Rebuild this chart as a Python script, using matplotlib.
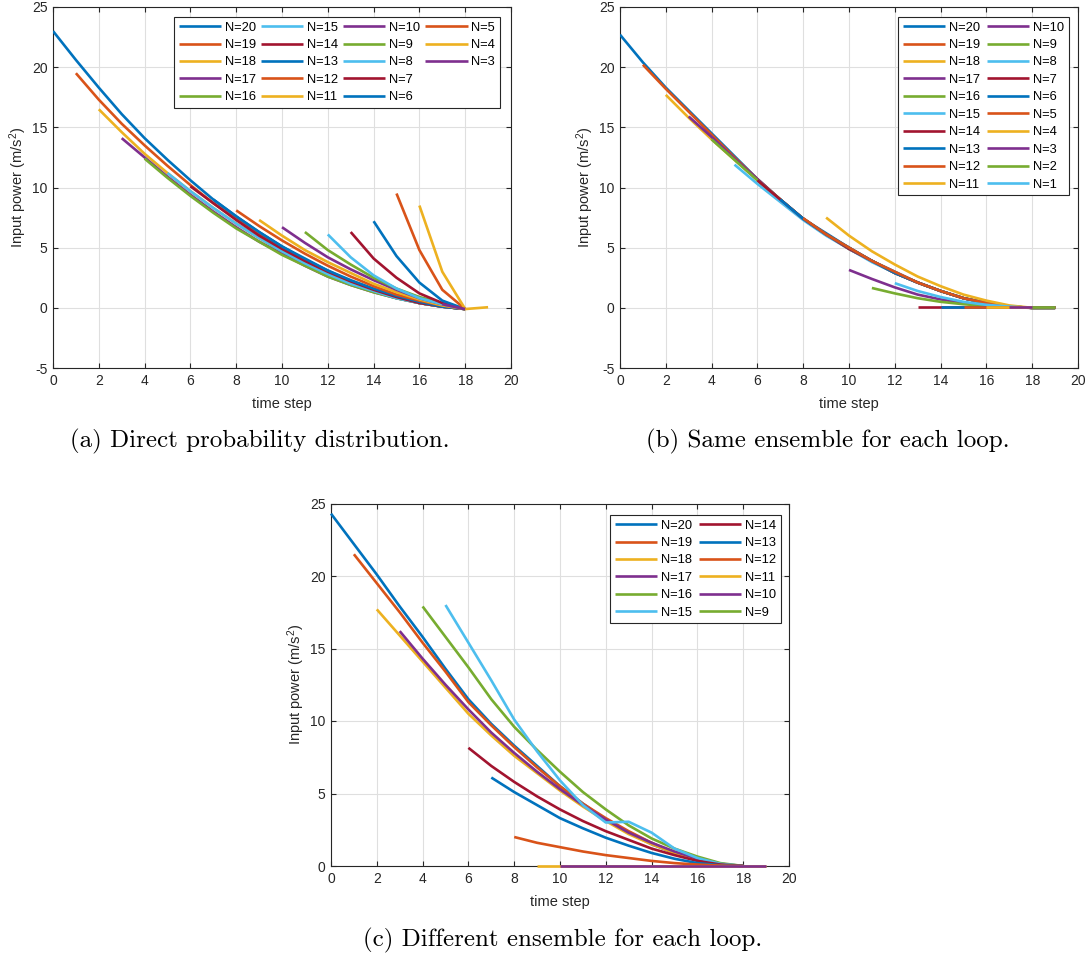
import matplotlib
matplotlib.use("Agg")
import matplotlib.pyplot as plt
from matplotlib.lines import Line2D

plt.rcParams['font.family'] = ['Liberation Sans', 'DejaVu Sans']
plt.rcParams['mathtext.fontset'] = 'custom'
plt.rcParams['mathtext.rm'] = 'Liberation Sans'
plt.rcParams['mathtext.it'] = 'Liberation Sans:italic'
plt.rcParams['axes.unicode_minus'] = False

# ---------------- data ----------------
colors = ['#0072BD', '#D95319', '#EDB120', '#7E2F8E', '#77AC30', '#4DBEEE', '#A2142F']

# Panel (a): Direct probability distribution
a_N = [20, 19, 18, 17, 16, 15, 14, 13, 12, 11, 10, 9, 8, 7, 6, 5, 4, 3]
a_start = [0, 1, 2, 3, 4, 5, 6, 7, 8, 9, 10, 11, 12, 13, 14, 15, 16, 17]
a_vals = [
    [23.0, 20.6, 18.3, 16.1, 14.1, 12.3, 10.6, 9.0, 7.6, 6.3, 5.1, 4.0, 3.1, 2.2, 1.5, 0.9, 0.4, 0.1, -0.1],
    [19.5, 17.3, 15.3, 13.5, 11.8, 10.2, 8.7, 7.4, 6.1, 5.0, 3.9, 3.0, 2.1, 1.4, 0.9, 0.4, 0.1, -0.1],
    [16.5, 14.6, 12.8, 11.2, 9.7, 8.3, 7.0, 5.8, 4.7, 3.7, 2.8, 2.0, 1.4, 0.8, 0.4, 0.1, -0.1],
    [14.1, 12.5, 10.9, 9.4, 8.0, 6.7, 5.5, 4.5, 3.5, 2.6, 1.9, 1.3, 0.8, 0.4, 0.1, -0.1],
    [12.4, 10.8, 9.3, 7.9, 6.6, 5.5, 4.4, 3.5, 2.6, 1.9, 1.3, 0.8, 0.4, 0.1, -0.1],
    [11.2, 9.7, 8.3, 7.0, 5.8, 4.7, 3.7, 2.8, 2.0, 1.4, 0.8, 0.4, 0.1, -0.1],
    [10.1, 8.7, 7.3, 6.0, 4.9, 3.9, 3.0, 2.2, 1.5, 0.9, 0.4, 0.1, -0.1],
    [9.0, 7.6, 6.3, 5.1, 4.1, 3.1, 2.3, 1.6, 1.0, 0.5, 0.1, -0.1],
    [8.1, 6.8, 5.6, 4.5, 3.5, 2.6, 1.8, 1.1, 0.6, 0.2, -0.1],
    [7.3, 6.0, 4.8, 3.8, 2.9, 2.0, 1.3, 0.7, 0.2, -0.1],
    [6.7, 5.4, 4.2, 3.2, 2.3, 1.5, 0.8, 0.3, -0.1],
    [6.3, 4.8, 3.6, 2.5, 1.6, 0.9, 0.4, -0.1],
    [6.1, 4.2, 2.7, 1.6, 0.8, 0.3, -0.1],
    [6.3, 4.1, 2.5, 1.2, 0.4, -0.1],
    [7.2, 4.3, 2.1, 0.6, -0.1],
    [9.5, 4.8, 1.5, -0.1],
    [8.5, 3.0, -0.1, 0.05],
    [0.3, -0.1],
]

# Panel (b): Same ensemble for each loop
b_N = [20, 19, 18, 17, 16, 15, 14, 13, 12, 11, 10, 9, 8, 7, 6, 5, 4, 3, 2, 1]
b_start = [0, 1, 2, 3, 4, 5, 6, 7, 8, 9, 10, 11, 12, 13, 14, 15, 16, 17, 18, 19]
b_vals = [
    [22.7, 20.4, 18.3, 16.4, 14.5, 12.6, 10.7, 9.0, 7.4, 6.2, 5.0, 3.9, 3.0, 2.1, 1.4, 0.8, 0.4, 0.1, 0.0, 0.0],
    [20.2, 18.2, 16.3, 14.4, 12.5, 10.7, 9.0, 7.4, 6.1, 5.0, 3.9, 2.9, 2.1, 1.4, 0.8, 0.4, 0.1, 0.0, 0.0],
    [17.7, 15.8, 14.0, 12.3, 10.6, 9.0, 7.4, 6.1, 4.9, 3.9, 2.9, 2.1, 1.4, 0.8, 0.4, 0.1, 0.0, 0.0],
    [15.9, 14.2, 12.4, 10.7, 9.0, 7.4, 6.1, 4.9, 3.9, 2.9, 2.1, 1.4, 0.8, 0.4, 0.1, 0.0, 0.0],
    [14.0, 12.3, 10.6, 9.0, 7.4, 6.1, 4.9, 3.9, 2.9, 2.1, 1.4, 0.8, 0.4, 0.1, 0.0, 0.0],
    [11.9, 10.3, 8.8, 7.3, 6.0, 4.9, 3.8, 2.9, 2.1, 1.4, 0.8, 0.4, 0.1, 0.0, 0.0],
    [10.6, 9.0, 7.4, 6.1, 4.9, 3.9, 2.9, 2.1, 1.4, 0.8, 0.4, 0.1, 0.0, 0.0],
    [9.0, 7.4, 6.1, 5.0, 3.9, 2.9, 2.1, 1.4, 0.8, 0.4, 0.1, 0.0, 0.0],
    [7.45, 6.1, 5.0, 3.9, 3.0, 2.1, 1.4, 0.8, 0.4, 0.1, 0.0, 0.0],
    [7.5, 6.0, 4.7, 3.6, 2.6, 1.8, 1.1, 0.6, 0.2, 0.0, 0.0],
    [3.15, 2.4, 1.7, 1.1, 0.7, 0.4, 0.2, 0.05, 0.0, 0.0],
    [1.65, 1.2, 0.8, 0.5, 0.3, 0.15, 0.05, 0.0, 0.0],
    [2.05, 1.4, 0.9, 0.5, 0.25, 0.1, 0.0, 0.0],
    [0.05, 0.05, 0.05, 0.05, 0.05, 0.05, 0.05],
    [0.05, 0.05, 0.05, 0.05, 0.05, 0.05],
    [0.05, 0.05, 0.05, 0.05, 0.05],
    [0.05, 0.05, 0.05, 0.05],
    [0.05, 0.05, 0.05],
    [0.05, 0.05],
    [0.05],
]

# Panel (c): Different ensemble for each loop
c_N = [20, 19, 18, 17, 16, 15, 14, 13, 12, 11, 10, 9]
c_start = [0, 1, 2, 3, 4, 5, 6, 7, 8, 9, 10, 11]
c_vals = [
    [24.3, 22.2, 20.1, 17.9, 15.8, 13.6, 11.5, 9.8, 8.3, 6.9, 5.5, 4.3, 3.2, 2.3, 1.5, 0.9, 0.4, 0.1, 0.0],
    [21.5, 19.5, 17.5, 15.4, 13.4, 11.3, 9.7, 8.2, 6.8, 5.5, 4.3, 3.3, 2.4, 1.6, 0.9, 0.4, 0.1, 0.0],
    [17.7, 15.9, 14.1, 12.3, 10.5, 9.0, 7.6, 6.4, 5.2, 4.1, 3.1, 2.2, 1.5, 0.9, 0.4, 0.1, 0.0],
    [16.2, 14.3, 12.5, 10.8, 9.2, 7.8, 6.5, 5.3, 4.2, 3.2, 2.3, 1.6, 1.0, 0.5, 0.15, 0.0],
    [17.9, 15.8, 13.7, 11.5, 9.6, 8.0, 6.5, 5.1, 3.9, 2.8, 1.9, 1.2, 0.65, 0.2, 0.0],
    [18.0, 15.4, 12.8, 10.1, 7.9, 5.9, 4.2, 3.0, 3.05, 2.3, 1.2, 0.55, 0.15, 0.0],
    [8.15, 6.9, 5.8, 4.8, 3.9, 3.1, 2.4, 1.8, 1.2, 0.75, 0.35, 0.1, 0.0],
    [6.1, 5.1, 4.2, 3.3, 2.6, 1.95, 1.4, 0.9, 0.5, 0.2, 0.05, 0.0],
    [2.0, 1.6, 1.3, 1.0, 0.75, 0.55, 0.35, 0.2, 0.1, 0.03, 0.0],
    [0.0, 0.0, 0.0, 0.0, 0.0, 0.0, 0.0, 0.0, 0.0, 0.0, 0.0],
    [0.0, 0.0, 0.0, 0.0, 0.0, 0.0, 0.0, 0.0, 0.0, 0.0],
    [],
]

x_ticks = [0, 2, 4, 6, 8, 10, 12, 14, 16, 18, 20]
captions = ["(a) Direct probability distribution.",
            "(b) Same ensemble for each loop.",
            "(c) Different ensemble for each loop."]

# ---------------- figure ----------------
W, H = 1089, 958
fig = plt.figure(figsize=(W / 100, H / 100), dpi=100)
TXT = '#262626'


def px_rect(x0, y0, x1, y1):
    return [x0 / W, 1 - y1 / H, (x1 - x0) / W, (y1 - y0) / H]


def style_axes(ax, ylim, yticks):
    ax.set_xlim(0, 20)
    ax.set_ylim(*ylim)
    ax.set_xticks(x_ticks)
    ax.set_yticks(yticks)
    ax.grid(True, color='#dfdfdf', lw=0.8)
    ax.set_axisbelow(True)
    for s in ax.spines.values():
        s.set_color(TXT)
        s.set_linewidth(0.8)
    ax.tick_params(direction='in', length=3.5, width=0.8, color=TXT,
                   labelcolor=TXT, labelsize=10, top=True, right=True, pad=4)
    ax.set_xlabel('time step', fontsize=10.5, color=TXT, labelpad=7)
    ax.set_ylabel('Input power (m/s$^2$)', fontsize=10.5, color=TXT, labelpad=2)


def draw(ax, Ns, starts, vals, clip=True):
    handles = []
    for i, (n, s, v) in enumerate(zip(Ns, starts, vals)):
        xs = list(range(s, s + len(v)))
        h, = ax.plot(xs, v, color=colors[i % 7], lw=1.9, label=f'N={n}',
                     solid_capstyle='butt', zorder=3, clip_on=clip)
        handles.append(h)
    return handles


def legend(ax, handles, ncol, x0, y0, colsp=0.5):
    labels = [h.get_label() for h in handles]
    lg = ax.legend(handles, labels, ncol=ncol, loc='upper left',
                   bbox_to_anchor=(x0 / W, 1 - y0 / H), bbox_transform=fig.transFigure,
                   fontsize=9.3, frameon=True, fancybox=False, framealpha=1,
                   edgecolor=TXT, borderpad=0.35, labelspacing=0.42,
                   handlelength=3.3, handletextpad=0.3, columnspacing=colsp,
                   borderaxespad=0)
    lg.get_frame().set_linewidth(0.8)
    for t in lg.get_texts():
        t.set_color('black')
    return lg


# (a)
axa = fig.add_axes(px_rect(53, 7, 511, 368))
style_axes(axa, (-5, 25), [-5, 0, 5, 10, 15, 20, 25])
ha = draw(axa, a_N, a_start, a_vals)
blank = [Line2D([], [], alpha=0, label='') for _ in range(2)]
legend(axa, ha + blank, 4, 174, 17, colsp=0.35)

# (b)
axb = fig.add_axes(px_rect(620, 7, 1078, 368))
style_axes(axb, (-5, 25), [-5, 0, 5, 10, 15, 20, 25])
hb = draw(axb, b_N, b_start, b_vals)
legend(axb, hb, 2, 898, 17)

# (c)
axc = fig.add_axes(px_rect(331, 503.5, 789, 866))
style_axes(axc, (0, 25), [0, 5, 10, 15, 20, 25])
hc = draw(axc, c_N, c_start, c_vals, clip=False)
legend(axc, hc, 2, 610, 515)

cap_font = dict(family=['cmr10', 'DejaVu Serif'], fontsize=18, ha='center', va='center')
fig.text(260 / W, 1 - 441 / H, captions[0], **cap_font)
fig.text(828 / W, 1 - 441 / H, captions[1], **cap_font)
fig.text(563 / W, 1 - 940 / H, captions[2], **cap_font)

fig.savefig('out.png', dpi=100)
